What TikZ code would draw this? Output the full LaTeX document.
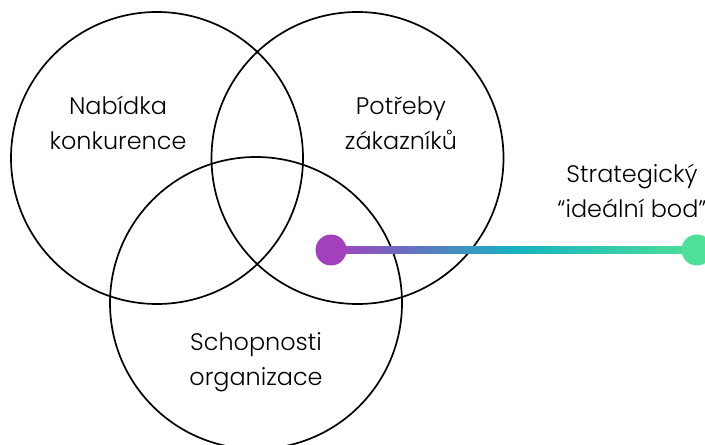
\documentclass[tikz,border=0pt]{standalone}
\usepackage{fontspec}
\setmainfont{Poppins Light}
\usetikzlibrary{calc}
\definecolor{dotpurple}{RGB}{163,64,190}
\definecolor{lineteal}{RGB}{22,178,192}
\definecolor{dotgreen}{RGB}{78,224,152}
\tikzset{
  set/.style={draw=black, line width=1.7bp},
  label/.style={align=center, font=\fontsize{24}{35}\selectfont, inner sep=0pt},
  dot/.style={circle, minimum size=31bp, inner sep=0pt},
}
\begin{document}
\begin{tikzpicture}[x=1bp, y=-1bp]
  \useasboundingbox (0,0) rectangle (705,445);
  \begin{scope}
    \clip (0,0) rectangle (705,445);
    % the three overlapping sets
    \draw[set] (157,158) circle (146);
    \draw[set] (357.5,158) circle (146);
    \draw[set] (256,303) circle (146);

    % set labels
    \node[label] (offer) at (118,123) {Nabídka\\konkurence};
    \node[label] (needs) at (401,123) {Potřeby\\zákazníků};
    \node[label] (skills) at (256,362) {Schopnosti\\organizace};
    \node[label] (ideal) at (632,191) {Strategický\\“ideální bod”};

    % gradient connector between the two end points
    \node[dot] (p) at (331,250) {};
    \node[dot] (q) at (697,250) {};
    \shade[left color=dotpurple, right color=dotgreen, middle color=lineteal]
      ($(p.center)+(0,-3.6)$) rectangle ($(q.center)+(0,3.6)$);
    \fill[dotpurple] (p) circle (15.5);
    \fill[dotgreen] (q) circle (15.5);
  \end{scope}
\end{tikzpicture}
\end{document}
